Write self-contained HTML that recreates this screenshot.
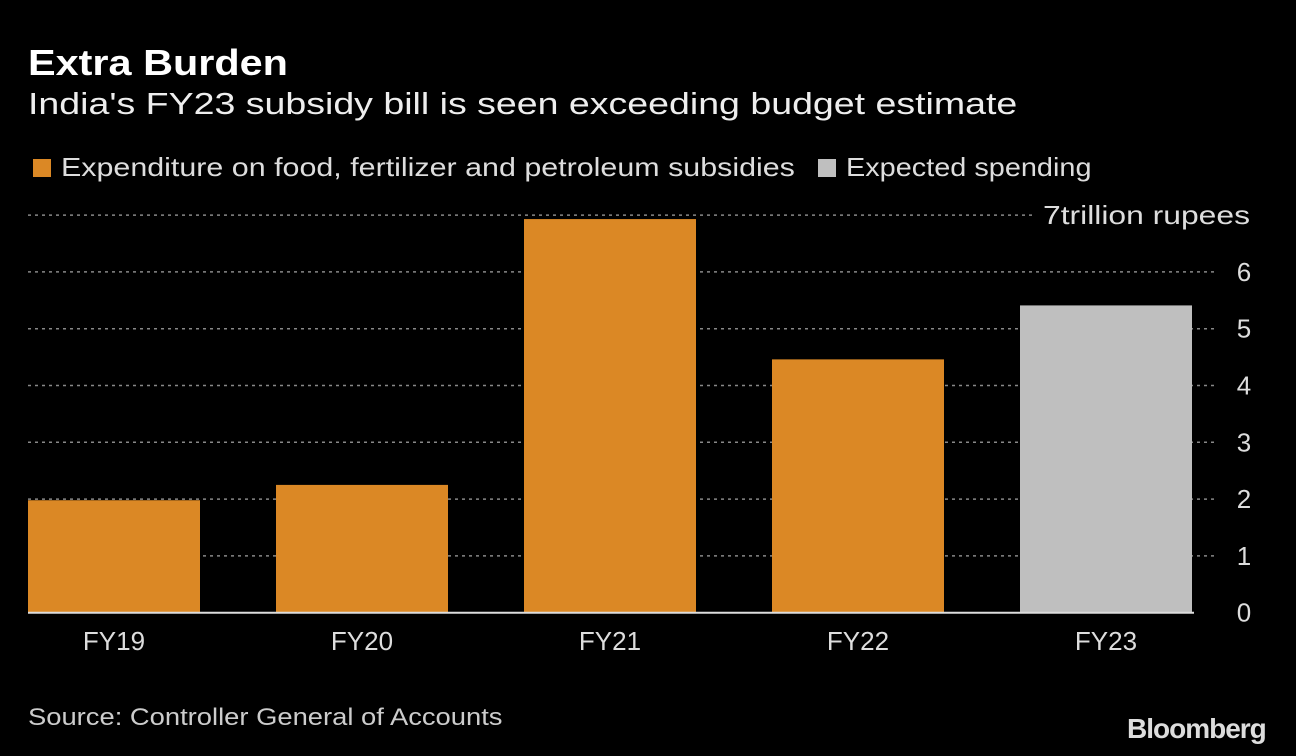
<!DOCTYPE html>
<html><head><meta charset="utf-8"><style>
html,body{margin:0;padding:0;background:#000;}
body{width:1296px;height:756px;overflow:hidden;font-family:"Liberation Sans","DejaVu Sans",sans-serif;color:#fff;position:relative;}
.t{position:absolute;white-space:nowrap;transform-origin:0 0;}
</style></head><body>
<div class="t" style="left:28px;top:42px;font-size:36px;font-weight:bold;transform:scaleX(1.15);">Extra Burden</div>
<div class="t" style="left:28px;top:86px;font-size:31px;color:#eee;transform:scaleX(1.21);">India's FY23 subsidy bill is seen exceeding budget estimate</div>
<div class="t" style="left:33px;top:152px;font-size:26px;color:#ddd;"><span style="display:inline-block;width:18px;height:18px;background:#db8825;margin-right:10px;vertical-align:-1px;"></span><span style="display:inline-block;transform:scaleX(1.17);transform-origin:0 0;">Expenditure on food, fertilizer and petroleum subsidies</span></div>
<div class="t" style="left:818px;top:152px;font-size:26px;color:#ddd;"><span style="display:inline-block;width:18px;height:18px;background:#bfbfbf;margin-right:10px;vertical-align:-1px;"></span><span style="display:inline-block;transform:scaleX(1.11);transform-origin:0 0;">Expected spending</span></div>
<svg id="chart" width="1296" height="756" style="position:absolute;left:0;top:0;"></svg>
<div class="t" style="left:28px;top:704px;font-size:24px;color:#ccc;transform:scaleX(1.14);">Source: Controller General of Accounts</div>
<div class="t" style="left:1127px;top:713px;font-size:28px;font-weight:bold;letter-spacing:-1px;color:#ddd;">Bloomberg</div>
<script>
const categories=["FY19","FY20","FY21","FY22","FY23"];
const values=[1.98,2.25,6.93,4.46,5.41];
const expected=[false,false,false,false,true];
const ticks=[0,1,2,3,4,5,6,7];
const NS="http://www.w3.org/2000/svg";
const svg=document.getElementById('chart');
const y0=612.7,unit=56.8;
function y(v){return y0-v*unit;}
function x(i){return 28+i*248;}
const bw=172;
function mk(t,a){const e=document.createElementNS(NS,t);for(const k in a)e.setAttribute(k,a[k]);svg.appendChild(e);return e;}
ticks.forEach(t=>{
  if(t>0){
    const l=mk('line',{x1:28,x2:t===7?1036:1216,y1:y(t),y2:y(t),stroke:'#888','stroke-width':1.5,'stroke-dasharray':'3,4'});
    
    
  }
  const attrs={x:t===7?1043:1244,y:y(t)+9,'font-size':26,fill:'#ddd','text-anchor':t===7?'start':'middle','font-family':'Liberation Sans, sans-serif'};
  if(t===7){attrs.textLength=207;attrs.lengthAdjust='spacingAndGlyphs';}
  const tx=mk('text',attrs);
  tx.textContent=t===7?'7trillion rupees':String(t);
  
  
});
categories.forEach((c,i)=>{
  const r=mk('rect',{x:x(i),y:y(values[i]),width:bw,height:y0-y(values[i]),fill:expected[i]?'#bfbfbf':'#db8825'});
  
  
  const tx=mk('text',{x:x(i)+bw/2,y:650,'font-size':26,fill:'#ddd','text-anchor':'middle','font-family':'Liberation Sans, sans-serif'});
  tx.textContent=c;
  
  
});
const b=mk('line',{x1:28,x2:1194,y1:y0,y2:y0,stroke:'#ddd','stroke-width':2});


</script>
</body></html>
